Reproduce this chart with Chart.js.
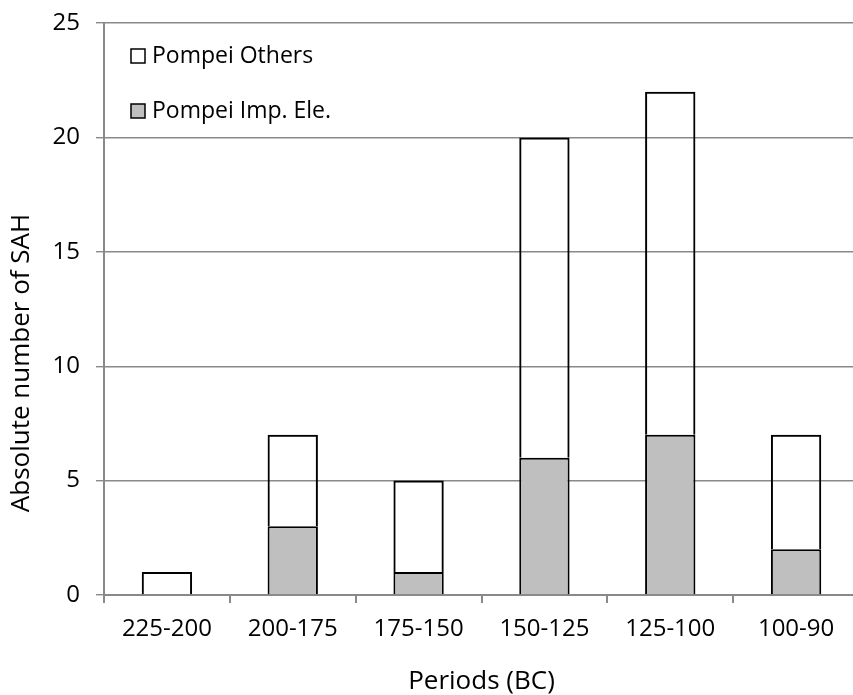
<!DOCTYPE html>
<html>
<head>
<meta charset="utf-8">
<script src="https://cdn.jsdelivr.net/npm/chart.js@4.4.1/dist/chart.umd.min.js"></script>
<style>
  html, body { margin: 0; padding: 0; background: #fff; overflow: hidden; }
  #wrap { width: 862px; height: 695px; }
</style>
</head>
<body>
<div id="wrap"><canvas id="chart" width="862" height="695"></canvas></div>
<script>
// Data
const periods = ['225-200', '200-175', '175-150', '150-125', '125-100', '100-90'];
const impEle = [0, 3, 1, 6, 7, 2];
const others = [1, 4, 4, 14, 15, 5];
const yTicks = [0, 5, 10, 15, 20, 25];
const yTitle = 'Absolute number of SAH';

const AXIS = '#898989';
const FONT = 'Open Sans';

// Legend drawn inside the plot, top-left, stacked vertically (Others first)
const insideLegend = {
  id: 'insideLegend',
  afterDraw(chart) {
    const { ctx, chartArea } = chart;
    const items = chart.data.datasets.slice().reverse();
    ctx.save();
    ctx.font = '23px "' + FONT + '"';
    ctx.textBaseline = 'middle';
    items.forEach((ds, i) => {
      const cy = chartArea.top + 33 + i * 55;
      const bx = chartArea.left + 27;
      ctx.fillStyle = ds.legendFill;
      ctx.fillRect(bx, cy - 7, 14, 14);
      ctx.lineWidth = 1.5;
      ctx.strokeStyle = '#000';
      ctx.strokeRect(bx, cy - 7, 14, 14);
      ctx.fillStyle = '#000';
      ctx.fillText(ds.label, bx + 21, cy);
    });
    ctx.restore();
  }
};

// y title sits a bit below the middle of the axis in the original
const yAxisTitle = {
  id: 'yAxisTitle',
  afterDraw(chart) {
    const { ctx } = chart;
    ctx.save();
    ctx.translate(22, 363);
    ctx.rotate(-Math.PI / 2);
    ctx.font = '26px "' + FONT + '"';
    ctx.fillStyle = '#000';
    ctx.textAlign = 'center';
    ctx.textBaseline = 'middle';
    ctx.fillText(yTitle, 0, 0);
    ctx.restore();
  }
};

new Chart(document.getElementById('chart'), {
  type: 'bar',
  data: {
    labels: periods,
    datasets: [
      {
        label: 'Pompei Imp. Ele.',
        data: impEle,
        backgroundColor: '#bfbfbf',
        legendFill: '#bfbfbf',
        borderColor: '#000',
        borderWidth: 2
      },
      {
        // no fill: the gridlines show through these bars
        label: 'Pompei Others',
        data: others,
        backgroundColor: 'rgba(255,255,255,0)',
        legendFill: '#ffffff',
        borderColor: '#000',
        borderWidth: 2
      }
    ]
  },
  options: {
    responsive: false,
    animation: false,
    layout: { padding: { top: 23, right: 3, left: 0, bottom: 0 } },
    datasets: { bar: { barPercentage: 0.4, categoryPercentage: 1 } },
    plugins: {
      legend: { display: false },
      tooltip: { enabled: false }
    },
    scales: {
      x: {
        stacked: true,
        offset: true,
        afterFit(scale) { scale.height = 100; },
        grid: { display: true, drawOnChartArea: false, offset: true, color: AXIS, tickLength: 8, lineWidth: 2 },
        border: { display: true, color: AXIS, width: 2 },
        ticks: { color: '#000', font: { family: FONT, size: 24 }, padding: 12, maxRotation: 0 },
        title: {
          display: true,
          text: 'Periods (BC)',
          color: '#000',
          font: { family: FONT, size: 26, lineHeight: 1 },
          padding: { top: 0, bottom: 0 }
        }
      },
      y: {
        stacked: true,
        min: 0,
        max: 25,
        afterFit(scale) {
          scale.width = 104;
          scale.paddingTop = 0;
          scale.paddingBottom = 0;
        },
        afterBuildTicks(scale) { scale.ticks = yTicks.map(v => ({ value: v })); },
        grid: { drawOnChartArea: true, color: AXIS, tickLength: 8, lineWidth: 1.4 },
        border: { display: true, color: AXIS, width: 2 },
        ticks: { color: '#000', font: { family: FONT, size: 24 }, padding: 16 }
      }
    }
  },
  plugins: [insideLegend, yAxisTitle]
});
</script>
</body>
</html>
